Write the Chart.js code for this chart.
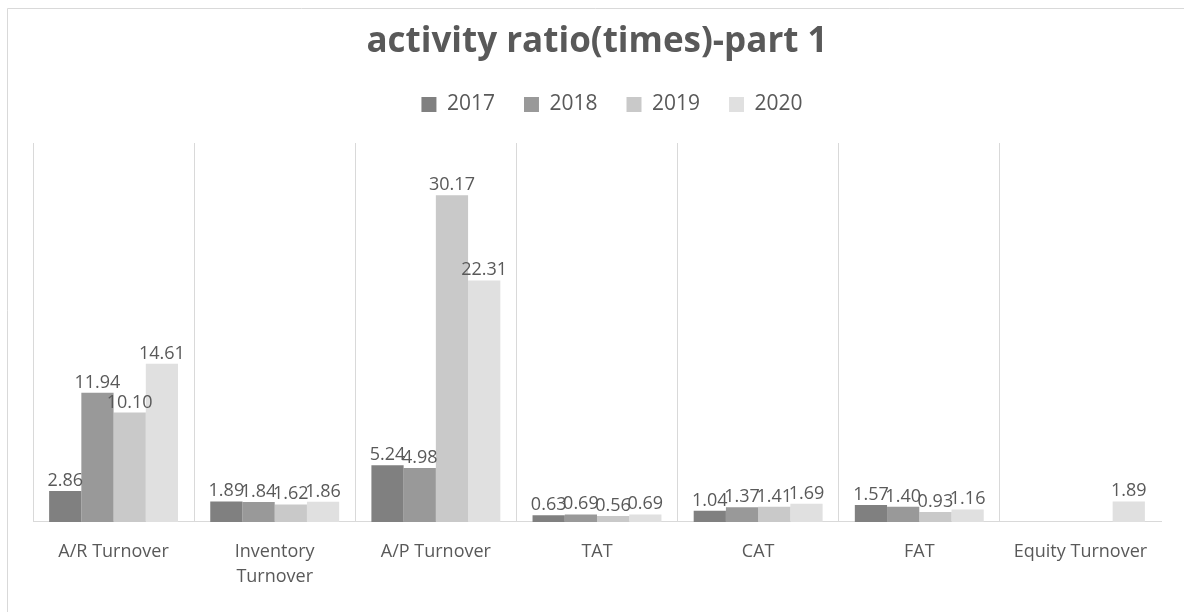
<!DOCTYPE html>
<html>
<head>
<meta charset="utf-8">
<script src="https://cdn.jsdelivr.net/npm/chart.js@4.4.0/dist/chart.umd.min.js"></script>
<style>
  html, body { margin: 0; padding: 0; background: #ffffff; }
  #wrap { width: 1184px; height: 612px; position: relative; }
</style>
</head>
<body>
<div id="wrap"><canvas id="c" width="1184" height="612"></canvas></div>
<script>
const categories = ['A/R Turnover', ['Inventory', 'Turnover'], 'A/P Turnover', 'TAT', 'CAT', 'FAT', 'Equity Turnover'];
const seriesNames = ['2017', '2018', '2019', '2020'];
const values2017 = [2.86, 1.89, 5.24, 0.63, 1.04, 1.57, null];
const values2018 = [11.94, 1.84, 4.98, 0.69, 1.37, 1.40, null];
const values2019 = [10.10, 1.62, 30.17, 0.56, 1.41, 0.93, null];
const values2020 = [14.61, 1.86, 22.31, 0.69, 1.69, 1.16, 1.89];
const seriesColors = ['#808080', '#999999', '#c9c9c9', '#e0e0e0'];

const FONT = "'Open Sans', 'Liberation Sans', sans-serif";
const TEXT = '#595959';

const frame = {
  id: 'frame',
  beforeDraw(chart) {
    const ctx = chart.ctx;
    ctx.save();
    ctx.fillStyle = '#ffffff';
    ctx.fillRect(0, 0, chart.width, chart.height);
    ctx.strokeStyle = '#d9d9d9';
    ctx.lineWidth = 1;
    ctx.beginPath();
    ctx.moveTo(7.5, chart.height);
    ctx.lineTo(7.5, 8.5);
    ctx.lineTo(chart.width, 8.5);
    ctx.stroke();
    ctx.restore();
  }
};

const legendSpacer = {
  id: 'legendSpacer',
  beforeInit(chart) {
    const lg = chart.legend;
    if (!lg) return;
    const origFit = lg.fit;
    lg.fit = function () {
      origFit.call(this);
      this.height += 18;
    };
  },
  afterLayout(chart) {
    const lg = chart.legend;
    if (!lg) return;
    lg.left += 15;
    lg.right += 15;
  }
};

const valueLabels = {
  id: 'valueLabels',
  afterDatasetsDraw(chart) {
    const ctx = chart.ctx;
    ctx.save();
    ctx.font = '18px ' + FONT;
    ctx.fillStyle = TEXT;
    ctx.textAlign = 'center';
    ctx.textBaseline = 'alphabetic';
    chart.data.datasets.forEach((ds, di) => {
      const meta = chart.getDatasetMeta(di);
      meta.data.forEach((el, i) => {
        const v = ds.data[i];
        if (v === null || v === undefined) return;
        ctx.fillText(v.toFixed(2), el.x, el.y - 5);
      });
    });
    ctx.restore();
  }
};

const allSeries = [values2017, values2018, values2019, values2020];

new Chart(document.getElementById('c'), {
  type: 'bar',
  data: {
    labels: categories,
    datasets: seriesNames.map((name, k) => ({
      label: name,
      data: allSeries[k],
      backgroundColor: seriesColors[k],
      borderWidth: 0,
      categoryPercentage: 0.8,
      barPercentage: 1.0
    }))
  },
  options: {
    responsive: false,
    animation: false,
    layout: { padding: { top: 0, left: 33, right: 23, bottom: 6 } },
    plugins: {
      title: {
        display: true,
        text: 'activity ratio(times)-part 1',
        color: TEXT,
        font: { family: FONT, size: 35, weight: 'bold' },
        padding: { top: 21, bottom: 2 }
      },
      legend: {
        display: true,
        position: 'top',
        labels: {
          color: TEXT,
          font: { family: FONT, size: 21 },
          boxWidth: 15,
          boxHeight: 15,
          padding: 29
        }
      },
      tooltip: { enabled: false }
    },
    scales: {
      x: {
        grid: {
          display: true,
          offset: true,
          drawTicks: false,
          color: (ctx) => ctx.type === 'tick' ? '#d9d9d9' : 'rgba(0,0,0,0)',
          lineWidth: 1
        },
        border: { display: true, color: '#d9d9d9', width: 1 },
        ticks: {
          color: TEXT,
          font: { family: FONT, size: 18, lineHeight: 1.39 },
          padding: 17,
          maxRotation: 0,
          autoSkip: false
        }
      },
      y: {
        display: false,
        min: 0,
        max: 35
      }
    }
  },
  plugins: [frame, legendSpacer, valueLabels]
});
</script>
</body>
</html>
